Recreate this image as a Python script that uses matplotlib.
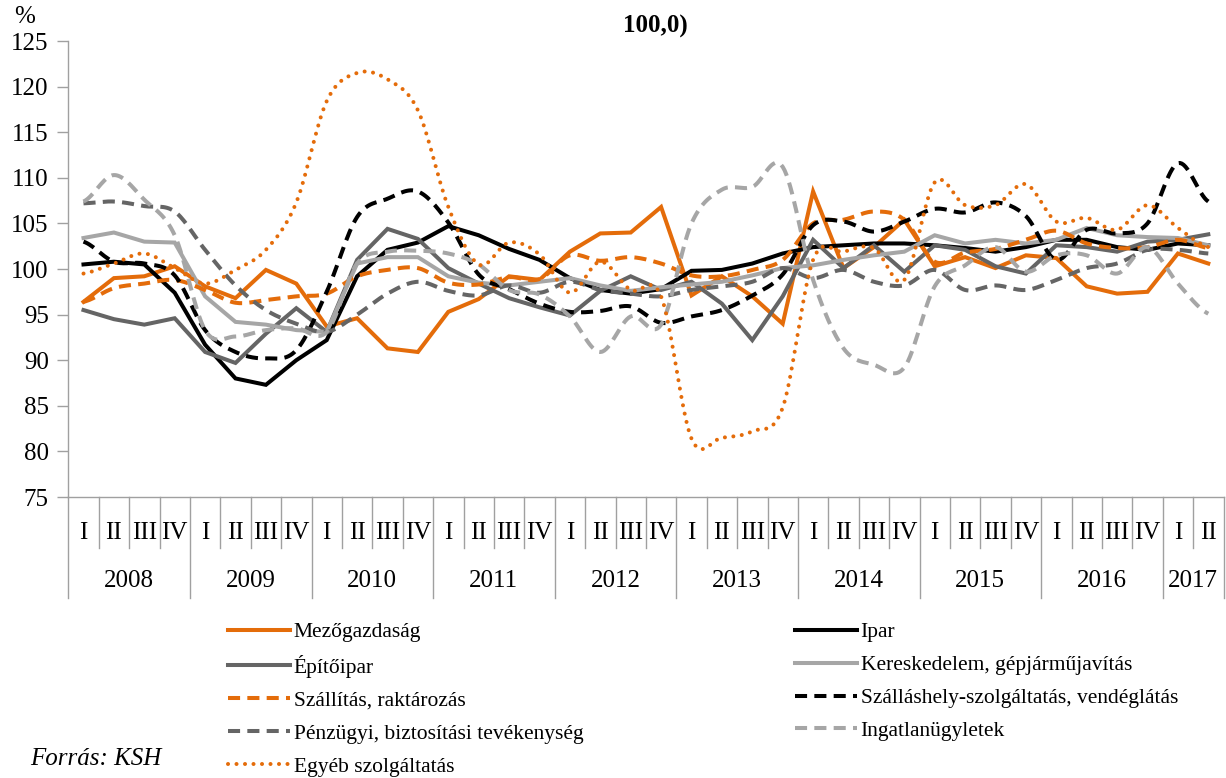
import numpy as np
import matplotlib.pyplot as plt
from matplotlib.transforms import blended_transform_factory

# quarters 2008 I .. 2017 II
years = ['2008', '2009', '2010', '2011', '2012', '2013', '2014', '2015', '2016', '2017']
quarters = ['I', 'II', 'III', 'IV'] * 9 + ['I', 'II']

mezogazdasag = [96.4, 99.0, 99.2, 100.3, 98.1, 96.8, 99.9, 98.4, 93.7, 94.6, 91.3, 90.9, 95.3, 96.7, 99.2, 98.8,
                101.9, 103.9, 104.0, 106.8, 97.1, 99.2, 97.0, 94.0, 108.5, 100.1, 102.4, 105.4, 100.3, 101.3,
                100.1, 101.5, 101.2, 98.1, 97.3, 97.5, 101.7, 100.6]
ipar = [100.5, 100.8, 100.5, 97.4, 91.7, 88.0, 87.3, 90.0, 92.2, 99.2, 102.1, 102.9, 104.7, 103.7, 102.2, 101.0,
        99.0, 97.7, 97.3, 97.8, 99.8, 99.9, 100.6, 101.7, 102.4, 102.6, 102.8, 102.8, 102.6, 102.3,
        101.9, 102.4, 103.2, 103.2, 102.4, 102.1, 102.8, 102.6]
epitoipar = [95.5, 94.5, 93.9, 94.6, 90.9, 89.7, 92.9, 95.7, 93.1, 101.0, 104.4, 103.3, 100.1, 98.4, 96.8, 95.8,
             94.9, 97.6, 99.2, 97.7, 98.6, 96.2, 92.2, 97.0, 103.2, 100.1, 102.6, 99.7, 102.6, 102.1,
             100.3, 99.5, 102.6, 102.4, 101.9, 103.0, 103.2, 103.8]
kereskedelem = [103.4, 104.0, 103.0, 102.9, 97.0, 94.2, 93.9, 93.3, 93.1, 100.6, 101.3, 101.3, 99.2, 98.5, 98.2, 98.6,
                99.0, 98.2, 97.6, 98.0, 98.3, 98.6, 99.3, 100.1, 100.4, 101.0, 101.5, 101.9, 103.7, 102.8,
                103.2, 102.8, 103.2, 104.5, 103.7, 103.5, 103.4, 102.6]
szallitas = [96.4, 97.9, 98.4, 98.8, 97.7, 96.3, 96.6, 97.0, 97.3, 99.2, 99.9, 100.1, 98.5, 98.3, 99.1, 98.9,
             101.5, 100.9, 101.3, 100.6, 99.3, 99.2, 99.9, 101.0, 105.0, 105.4, 106.3, 105.4, 100.8, 101.8,
             102.2, 103.2, 104.2, 102.8, 102.3, 102.4, 103.2, 102.3]
szallashely = [103.0, 100.8, 100.6, 99.3, 93.3, 90.9, 90.2, 91.1, 97.5, 105.7, 107.7, 108.5, 105.1, 99.4, 97.8, 96.2,
               95.3, 95.4, 95.9, 94.1, 94.8, 95.5, 97.1, 99.4, 104.8, 105.2, 104.1, 105.2, 106.6, 106.2,
               107.3, 105.8, 101.0, 104.3, 103.9, 105.0, 111.6, 107.4]
penzugyi = [107.2, 107.4, 106.9, 106.3, 102.1, 98.2, 95.5, 94.0, 93.1, 95.0, 97.3, 98.6, 97.6, 97.1, 98.2, 97.4,
            98.6, 97.7, 97.3, 97.0, 97.7, 98.1, 98.6, 100.1, 99.0, 99.9, 98.6, 98.2, 99.9, 97.7,
            98.2, 97.7, 98.8, 100.1, 100.6, 102.1, 102.1, 101.7]
ingatlan = [107.4, 110.3, 107.6, 103.7, 93.3, 92.6, 93.3, 93.5, 93.1, 100.6, 101.9, 102.0, 101.7, 100.5, 97.7, 97.2,
            94.8, 90.9, 94.8, 93.9, 105.0, 108.7, 109.0, 111.2, 98.8, 91.3, 89.5, 89.2, 98.1, 100.4,
            102.4, 99.7, 101.5, 101.5, 99.5, 102.4, 98.4, 95.1]
egyeb = [99.5, 100.6, 101.7, 100.1, 98.4, 99.9, 102.1, 107.3, 118.4, 121.5, 120.8, 117.4, 106.8, 100.5, 102.9, 101.6,
         97.4, 100.8, 97.7, 97.0, 81.4, 81.5, 82.2, 84.8, 101.0, 101.9, 102.3, 98.8, 109.5, 107.0,
         107.0, 109.3, 105.2, 105.6, 104.3, 107.0, 104.5, 102.4]

ORANGE = '#E46C0A'
DARK = '#656565'
LIGHT = '#A6A6A6'
DASH = (3.0, 1.8)
DOT = (0.01, 2.1)

# name, values, color, dash pattern (None = solid), smoothed
series = [
    ('Mezőgazdaság', mezogazdasag, ORANGE, None, False),
    ('Ipar', ipar, 'black', None, False),
    ('Építőipar', epitoipar, DARK, None, False),
    ('Kereskedelem, gépjárműjavítás', kereskedelem, LIGHT, None, False),
    ('Szállítás, raktározás', szallitas, ORANGE, DASH, True),
    ('Szálláshely-szolgáltatás, vendéglátás', szallashely, 'black', DASH, True),
    ('Pénzügyi, biztosítási tevékenység', penzugyi, DARK, DASH, True),
    ('Ingatlanügyletek', ingatlan, LIGHT, DASH, True),
    ('Egyéb szolgáltatás', egyeb, ORANGE, DOT, True),
]


def smooth(vals, n=16):
    # Catmull-Rom curve through the points (like Excel's smoothed line)
    y = np.asarray(vals, float)
    p = np.concatenate([[y[0]], y, [y[-1]]])
    t = np.linspace(0, 1, n, endpoint=False)
    xs, ys = [], []
    for i in range(len(y) - 1):
        p0, p1, p2, p3 = p[i], p[i + 1], p[i + 2], p[i + 3]
        ys.append(0.5 * (2 * p1 + (-p0 + p2) * t + (2 * p0 - 5 * p1 + 4 * p2 - p3) * t ** 2
                         + (-p0 + 3 * p1 - 3 * p2 + p3) * t ** 3))
        xs.append(i + t)
    xs.append([len(y) - 1])
    ys.append([y[-1]])
    return np.concatenate(xs), np.concatenate(ys)


plt.rcParams['font.family'] = ['Liberation Serif', 'DejaVu Serif']

fig = plt.figure(figsize=(12.26, 7.78), dpi=100)
W, H = 1226., 778.
ax = fig.add_axes([68.3 / W, 1 - 497 / H, (1223.5 - 68.3) / W, (497 - 41) / H])

x = np.arange(len(quarters))
handles = {}
for name, vals, col, dash, sm in series:
    xs, ys = smooth(vals) if sm else (x, np.asarray(vals))
    ln, = ax.plot(xs, ys, color=col, lw=2.9, solid_joinstyle='miter', label=name)
    if dash is not None:
        ln.set_dashes(dash)
        ln.set_dash_capstyle('round' if dash is DOT else 'butt')
    handles[name] = ln

ax.set_xlim(-0.5, len(quarters) - 0.5)
ax.set_ylim(75, 125)
ax.set_yticks(np.arange(75, 126, 5))
ax.tick_params(axis='y', labelsize=18, length=8, width=1, color='#A0A0A0', pad=6)
ax.set_xticks([])
for s in ['top', 'right']:
    ax.spines[s].set_visible(False)
for s in ['left', 'bottom']:
    ax.spines[s].set_color('#A0A0A0')
    ax.spines[s].set_linewidth(1)

# two-level category axis
tr = blended_transform_factory(ax.transData, ax.transAxes)
for k in range(len(quarters) + 1):
    ylow = -0.222 if k % 4 == 0 or k == len(quarters) else -0.112
    ax.plot([k - 0.5, k - 0.5], [0, ylow], transform=tr, color='#A0A0A0', lw=1, clip_on=False)
for k, q in enumerate(quarters):
    ax.text(k, -0.079, q, transform=tr, ha='center', va='center', fontsize=18)
for j, yr in enumerate(years):
    start = 4 * j
    end = min(4 * j + 3, len(quarters) - 1)
    ax.text((start + end) / 2, -0.184, yr, transform=tr, ha='center', va='center', fontsize=18)

fig.text(14 / W, 1 - 17 / H, '%', fontsize=18, ha='left', va='center')
fig.text(655 / W, 1 - 26 / H, '100,0)', fontsize=18, fontweight='bold', ha='center', va='center')
fig.text(30 / W, 1 - 759 / H, 'Forrás: KSH', fontsize=18, style='italic', ha='left', va='center')

left_names = ['Mezőgazdaság', 'Építőipar', 'Szállítás, raktározás', 'Pénzügyi, biztosítási tevékenység',
              'Egyéb szolgáltatás']
right_names = ['Ipar', 'Kereskedelem, gépjárműjavítás', 'Szálláshely-szolgáltatás, vendéglátás', 'Ingatlanügyletek']
leg_kw = dict(loc='upper left', frameon=False, fontsize=15.5, handlelength=2.9, handletextpad=0.15,
              labelspacing=0.6, borderpad=0, borderaxespad=0)
leg1 = fig.legend([handles[n] for n in left_names], left_names, bbox_to_anchor=(228 / W, 1 - 622 / H), **leg_kw)
leg2 = fig.legend([handles[n] for n in right_names], right_names, bbox_to_anchor=(795 / W, 1 - 622 / H), **leg_kw)

fig.savefig('out.png', dpi=100)
